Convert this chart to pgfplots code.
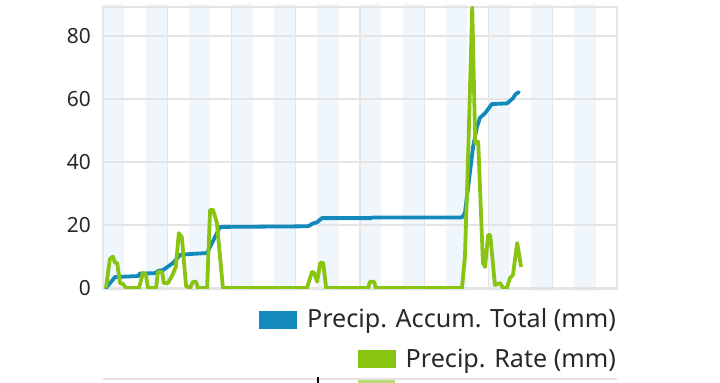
\documentclass[border=0pt]{standalone}
\usepackage{pgfplots}
\pgfplotsset{compat=1.18}
\usepackage{fontspec}
\setmainfont{Liberation Sans}
\newfontfamily\legfont{Noto Sans}
\definecolor{bandblue}{RGB}{239,246,252}
\definecolor{gridgray}{RGB}{228,228,228}
\definecolor{accblue}{RGB}{20,137,188}
\definecolor{rategreen}{RGB}{137,196,18}
\definecolor{textgray}{RGB}{40,40,40}
\begin{document}
\begin{tikzpicture}
\path (-103bp,-94bp) rectangle (617bp,289bp);
\begin{axis}[
  set layers,
  scale only axis,
  width=514bp, height=282bp,
  xmin=0, xmax=12,
  ymin=-0.3, ymax=89.2,
  xtick={0,1.5,...,12}, xticklabels={},
  ytick={0,20,40,60,80},
  major tick length=0pt,
  grid=major,
  grid style={gridgray, line width=1.2bp},
  axis line style={gridgray, line width=1.5bp},
  /pgf/number format/assume math mode=true,
  yticklabel style={font=\legfont\fontsize{21}{24}\selectfont, text=textgray, inner sep=0pt, xshift=-12bp},
  clip=true,
]
\begin{pgfonlayer}{axis background}
\fill[bandblue] (axis cs:0,-1) rectangle (axis cs:0.5,90);
\fill[bandblue] (axis cs:1,-1) rectangle (axis cs:1.5,90);
\fill[bandblue] (axis cs:2,-1) rectangle (axis cs:2.5,90);
\fill[bandblue] (axis cs:3,-1) rectangle (axis cs:3.5,90);
\fill[bandblue] (axis cs:4,-1) rectangle (axis cs:4.5,90);
\fill[bandblue] (axis cs:5,-1) rectangle (axis cs:5.5,90);
\fill[bandblue] (axis cs:6,-1) rectangle (axis cs:6.5,90);
\fill[bandblue] (axis cs:7,-1) rectangle (axis cs:7.5,90);
\fill[bandblue] (axis cs:8,-1) rectangle (axis cs:8.5,90);
\fill[bandblue] (axis cs:9,-1) rectangle (axis cs:9.5,90);
\fill[bandblue] (axis cs:10,-1) rectangle (axis cs:10.5,90);
\fill[bandblue] (axis cs:11,-1) rectangle (axis cs:11.5,90);
\end{pgfonlayer}
% Precip. Accum. Total
\addplot[accblue, line width=3.8bp, line join=round, line cap=round] coordinates {
(0.07,0) (0.28,3.5) (0.82,3.8) (0.86,4.6) (1.21,4.7) (1.30,5.5) (1.40,5.7)
(1.63,7.9) (1.80,10.5) (2.03,10.8) (2.43,11.1) (2.73,19.4) (4.79,19.6)
(4.90,20.5) (5.00,20.9) (5.11,22.2) (6.25,22.2) (6.30,22.4) (8.38,22.4)
(8.45,23.8) (8.64,44.8) (8.73,51.1) (8.80,54.0) (8.92,55.5) (9.08,58.4)
(9.43,58.6) (9.57,60.2) (9.63,61.5) (9.71,62.2)
};
% Precip. Rate
\addplot[rategreen, line width=3.8bp, line join=round] coordinates {
(0.07,0) (0.16,9.2) (0.23,10) (0.28,8) (0.33,8) (0.40,1.5) (0.47,1.3)
(0.54,0) (0.84,0) (0.93,4.8) (1.00,4.4) (1.05,0) (1.24,0) (1.28,5.1)
(1.38,5.1) (1.42,1.6) (1.52,1.6) (1.63,4.4) (1.70,6.7) (1.77,17.4)
(1.84,16.2) (1.94,0.6) (2.03,0) (2.10,2) (2.17,2) (2.22,0) (2.43,0)
(2.50,24.8) (2.57,24.8) (2.66,20.6) (2.80,0) (4.76,0) (4.88,5.1)
(4.93,4.8) (5.00,2) (5.07,8) (5.14,8) (5.21,0) (6.19,0) (6.23,2)
(6.33,2) (6.37,0) (8.38,0) (8.45,10) (8.52,40) (8.62,89) (8.69,46)
(8.76,46.4) (8.87,7.9) (8.92,6.7) (8.99,16.8) (9.04,16.8) (9.15,1)
(9.27,1.6) (9.34,0) (9.43,0) (9.50,3.2) (9.57,4.1) (9.67,14.3)
(9.69,12.7) (9.76,6.7)
};
\end{axis}
% legend
\node[anchor=base east, inner sep=0pt, text=textgray, font=\legfont\fontsize{25.2}{29}\selectfont] (l1) at (513bp,-38bp) {Precip. Accum. Total (mm)};
\fill[accblue] ([xshift=-10bp,yshift=-2bp]l1.base west) rectangle ++(-38bp,18bp);
\node[anchor=base east, inner sep=0pt, text=textgray, font=\legfont\fontsize{25.2}{29}\selectfont] (l2) at (513bp,-78bp) {Precip. Rate (mm)};
\fill[rategreen] ([xshift=-10bp,yshift=-1bp]l2.base west) rectangle ++(-38bp,18bp);
% top edge of the next panel
\draw[gridgray, line width=1.5bp] (0bp,-90bp) -- (514bp,-90bp);
\fill[rategreen!60] (255bp,-91bp) rectangle (292bp,-94bp);
\fill[black] (214bp,-88bp) rectangle (216bp,-94bp);
\end{tikzpicture}
\end{document}
